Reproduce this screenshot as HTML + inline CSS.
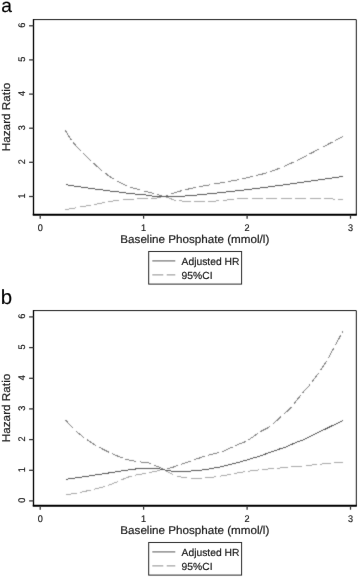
<!DOCTYPE html>
<html><head><meta charset="utf-8"><title>Figure</title>
<style>
html,body{margin:0;padding:0;background:#fff;}
svg{display:block;font-family:"Liberation Sans",sans-serif;fill:#1c1c1c;}
text{stroke:#1c1c1c;stroke-width:0.2px;text-rendering:geometricPrecision;}
</style></head>
<body>
<svg width="358" height="577" viewBox="0 0 358 577">
<defs>
<filter id="soft" color-interpolation-filters="sRGB" x="0" y="0" width="358" height="577" filterUnits="userSpaceOnUse"><feConvolveMatrix order="3" kernelMatrix="0.025 0.09 0.025 0.09 0.54 0.09 0.025 0.09 0.025" edgeMode="duplicate" preserveAlpha="false"/></filter>
<filter id="frm" color-interpolation-filters="sRGB" x="0" y="0" width="358" height="577" filterUnits="userSpaceOnUse"><feConvolveMatrix order="3" kernelMatrix="0.005 0.04 0.005 0.04 0.82 0.04 0.005 0.04 0.005" edgeMode="duplicate" preserveAlpha="false"/></filter>
<filter id="txt" color-interpolation-filters="sRGB" x="0" y="0" width="358" height="577" filterUnits="userSpaceOnUse"><feConvolveMatrix order="3" kernelMatrix="0 0.025 0 0.025 0.9 0.025 0 0.025 0" edgeMode="duplicate" preserveAlpha="false"/></filter>
</defs>
<rect width="358" height="577" fill="#fff"/>
<g filter="url(#frm)">
<path d="M33.5,19.6 H356.3 V214.9" fill="none" stroke="#1a1a1a" stroke-width="1"/>
<path d="M33.5,19.1 V214.9" fill="none" stroke="#000" stroke-width="1.35"/>
<path d="M32.75,214.65 H356.8" fill="none" stroke="#000" stroke-width="2"/>
<path d="M29.1,196.5 H33.5" stroke="#3a3a3a" stroke-width="1.3"/>
<path d="M29.1,162.3 H33.5" stroke="#3a3a3a" stroke-width="1.3"/>
<path d="M29.1,128.2 H33.5" stroke="#3a3a3a" stroke-width="1.3"/>
<path d="M29.1,94.1 H33.5" stroke="#3a3a3a" stroke-width="1.3"/>
<path d="M29.1,59.9 H33.5" stroke="#3a3a3a" stroke-width="1.3"/>
<path d="M29.1,25.8 H33.5" stroke="#3a3a3a" stroke-width="1.3"/>
<path d="M40.2,214.9 V218.7" stroke="#3a3a3a" stroke-width="1.3"/>
<path d="M143.6,214.9 V218.7" stroke="#3a3a3a" stroke-width="1.3"/>
<path d="M247.1,214.9 V218.7" stroke="#3a3a3a" stroke-width="1.3"/>
<path d="M350.5,214.9 V218.7" stroke="#3a3a3a" stroke-width="1.3"/>
<rect x="148.7" y="251.5" width="92.9" height="32.6" fill="#fff" stroke="#2a2a2a" stroke-width="1"/>
<path d="M152.3,260.9 H175.3" stroke="#777" stroke-width="1.2"/>
<path d="M152.3,274.9 H175.3" stroke="#a8a8a8" stroke-width="1.3" stroke-dasharray="11 3.4"/>
<path d="M33.5,310.6 H356.3 V505.9" fill="none" stroke="#1a1a1a" stroke-width="1"/>
<path d="M33.5,310.1 V505.9" fill="none" stroke="#000" stroke-width="1.35"/>
<path d="M32.75,505.65 H356.8" fill="none" stroke="#000" stroke-width="2"/>
<path d="M29.1,500.9 H33.5" stroke="#3a3a3a" stroke-width="1.3"/>
<path d="M29.1,470.3 H33.5" stroke="#3a3a3a" stroke-width="1.3"/>
<path d="M29.1,439.6 H33.5" stroke="#3a3a3a" stroke-width="1.3"/>
<path d="M29.1,408.9 H33.5" stroke="#3a3a3a" stroke-width="1.3"/>
<path d="M29.1,378.3 H33.5" stroke="#3a3a3a" stroke-width="1.3"/>
<path d="M29.1,347.6 H33.5" stroke="#3a3a3a" stroke-width="1.3"/>
<path d="M29.1,316.9 H33.5" stroke="#3a3a3a" stroke-width="1.3"/>
<path d="M40.2,505.9 V509.7" stroke="#3a3a3a" stroke-width="1.3"/>
<path d="M143.6,505.9 V509.7" stroke="#3a3a3a" stroke-width="1.3"/>
<path d="M247.1,505.9 V509.7" stroke="#3a3a3a" stroke-width="1.3"/>
<path d="M350.5,505.9 V509.7" stroke="#3a3a3a" stroke-width="1.3"/>
<rect x="148.7" y="542.5" width="92.9" height="32.6" fill="#fff" stroke="#2a2a2a" stroke-width="1"/>
<path d="M152.3,551.9 H175.3" stroke="#777" stroke-width="1.2"/>
<path d="M152.3,565.9 H175.3" stroke="#a8a8a8" stroke-width="1.3" stroke-dasharray="11 3.4"/>
</g>
<g filter="url(#soft)">
<path d="M65.4,130.4 L67.0,133.1 L68.6,135.8 L70.1,138.2 L71.7,140.5 L73.3,142.6 L74.9,144.5 L76.4,146.3 L78.0,148.0 L79.6,149.6 L81.2,151.2 L82.7,152.8 L84.3,154.4 L85.9,156.0 L87.5,157.5 L89.0,159.1 L90.6,160.6 L92.2,162.0 L93.8,163.4 L95.3,164.9 L96.9,166.3 L98.5,167.6 L100.1,169.0 L101.6,170.3 L103.2,171.6 L104.8,172.9 L106.4,174.0 L107.9,175.2 L109.5,176.3 L111.1,177.3 L112.7,178.4 L114.2,179.4 L115.8,180.3 L117.4,181.2 L119.0,182.1 L120.5,182.9 L122.1,183.6 L123.7,184.4 L125.3,185.1 L126.8,185.8 L128.4,186.5 L130.0,187.1 L131.6,187.6 L133.1,188.1 L134.7,188.5 L136.3,188.9 L137.9,189.3 L139.4,189.7 L141.0,190.1 L142.6,190.5 L144.2,191.0 L145.7,191.4 L147.3,191.8 L148.9,192.1 L150.5,192.5 L152.0,192.9 L153.6,193.3 L155.2,193.7 L156.8,194.2 L158.3,194.8 L159.9,195.2 L161.5,195.7 L162.2,195.9" fill="none" stroke="#828282" stroke-width="1" stroke-dasharray="11.2 3.28" shape-rendering="crispEdges"/>
<path d="M165.7,195.7 L167.3,195.1 L168.9,194.6 L170.5,194.1 L172.0,193.6 L173.6,193.1 L175.2,192.6 L176.8,192.1 L178.3,191.6 L179.9,191.2 L181.5,190.7 L183.1,190.3 L184.6,189.9 L186.2,189.5 L187.8,189.2 L189.3,188.8 L190.9,188.5 L192.5,188.2 L194.1,187.8 L195.6,187.5 L197.2,187.2 L198.8,186.8 L200.4,186.5 L201.9,186.3 L203.5,186.0 L205.1,185.7 L206.7,185.4 L208.2,185.1 L209.8,184.9 L211.4,184.6 L212.9,184.3 L214.5,184.0 L216.1,183.8 L217.7,183.5 L219.2,183.2 L220.8,182.9 L222.4,182.6 L224.0,182.3 L225.5,182.0 L227.1,181.8 L228.7,181.5 L230.3,181.2 L231.8,180.9 L233.4,180.6 L235.0,180.3 L236.6,180.0 L238.1,179.8 L239.7,179.5 L241.3,179.2 L242.8,178.8 L244.4,178.5 L246.0,178.1 L247.6,177.7 L249.1,177.3 L250.7,176.9 L252.3,176.5 L253.9,176.1 L255.4,175.7 L257.0,175.3 L258.6,174.9 L260.2,174.5 L261.7,174.2 L263.3,173.8 L264.9,173.3 L266.4,172.9 L268.0,172.4 L269.6,171.9 L271.2,171.3 L272.7,170.8 L274.3,170.2 L275.9,169.6 L277.5,169.0 L279.0,168.4 L280.6,167.7 L282.2,167.1 L283.8,166.4 L285.3,165.8 L286.9,165.1 L288.5,164.4 L290.0,163.7 L291.6,163.0 L293.2,162.3 L294.8,161.6 L296.3,160.9 L297.9,160.1 L299.5,159.3 L301.1,158.5 L302.6,157.7 L304.2,156.9 L305.8,156.1 L307.4,155.2 L308.9,154.4 L310.5,153.5 L312.1,152.7 L313.7,151.9 L315.2,151.0 L316.8,150.2 L318.4,149.4 L319.9,148.5 L321.5,147.7 L323.1,146.9 L324.7,146.1 L326.2,145.3 L327.8,144.4 L329.4,143.6 L331.0,142.8 L332.5,142.0 L334.1,141.1 L335.7,140.3 L337.3,139.5 L338.8,138.7 L340.4,137.8 L342.0,137.0 L342.9,136.5" fill="none" stroke="#828282" stroke-width="1" stroke-dasharray="11.2 3.28" stroke-dashoffset="8.60" shape-rendering="crispEdges"/>
<path d="M65.5,209.7 L67.1,209.4 L68.6,209.1 L70.2,208.8 L71.8,208.6 L73.4,208.3 L74.9,208.0 L76.5,207.7 L78.1,207.4 L79.7,207.1 L81.2,206.8 L82.8,206.6 L84.4,206.3 L86.0,206.0 L87.5,205.7 L89.1,205.4 L90.7,205.1 L92.3,204.8 L93.8,204.6 L95.4,204.3 L97.0,204.0 L98.5,203.7 L100.1,203.4 L101.7,203.1 L103.3,202.8 L104.8,202.5 L106.4,202.2 L108.0,201.9 L109.6,201.6 L111.1,201.3 L112.7,201.1 L114.3,200.8 L115.9,200.6 L117.4,200.3 L119.0,200.1 L120.6,199.9 L122.1,199.7 L123.7,199.6 L125.3,199.5 L126.9,199.4 L128.4,199.4 L130.0,199.4 L131.6,199.3 L133.2,199.2 L134.7,199.1 L136.3,198.8 L137.9,198.8 L139.5,198.8 L141.0,198.8 L142.6,198.8 L144.2,198.8 L145.8,198.8 L147.3,198.8 L148.9,198.8 L150.5,198.8 L152.0,198.8 L153.6,198.7 L155.2,198.4 L156.8,198.0 L158.3,197.6 L159.9,197.3 L161.5,196.9 L162.2,196.7" fill="none" stroke="#a8a8a8" stroke-width="1" stroke-dasharray="11.2 3.28" shape-rendering="crispEdges"/>
<path d="M165.7,197.0 L167.3,197.6 L168.9,198.1 L170.5,198.7 L172.0,199.2 L173.6,199.8 L175.2,200.2 L176.8,200.5 L178.3,200.6 L179.9,200.8 L181.5,200.9 L183.1,201.1 L184.6,201.2 L186.2,201.4 L187.8,201.5 L189.3,201.6 L190.9,201.6 L192.5,201.6 L194.1,201.6 L195.6,201.7 L197.2,201.7 L198.8,201.7 L200.4,201.7 L201.9,201.7 L203.5,201.7 L205.1,201.7 L206.7,201.7 L208.2,201.6 L209.8,201.5 L211.4,201.4 L212.9,201.3 L214.5,201.2 L216.1,201.0 L217.7,200.9 L219.2,200.7 L220.8,200.6 L222.4,200.5 L224.0,200.3 L225.5,200.1 L227.1,200.0 L228.7,199.8 L230.3,199.6 L231.8,199.4 L233.4,199.2 L235.0,199.1 L236.6,199.0 L238.1,198.9 L239.7,198.9 L241.3,198.8 L242.8,198.8 L244.4,198.7 L246.0,198.7 L247.6,198.7 L249.1,198.7 L250.7,198.7 L252.3,198.7 L253.9,198.7 L255.4,198.7 L257.0,198.7 L258.6,198.7 L260.2,198.7 L261.7,198.7 L263.3,198.7 L264.9,198.7 L266.4,198.7 L268.0,198.7 L269.6,198.7 L271.2,198.7 L272.7,198.7 L274.3,198.7 L275.9,198.7 L277.5,198.7 L279.0,198.7 L280.6,198.7 L282.2,198.7 L283.8,198.7 L285.3,198.7 L286.9,198.7 L288.5,198.7 L290.0,198.7 L291.6,198.7 L293.2,198.7 L294.8,198.7 L296.3,198.7 L297.9,198.7 L299.5,198.7 L301.1,198.7 L302.6,198.7 L304.2,198.7 L305.8,198.7 L307.4,198.7 L308.9,198.7 L310.5,198.7 L312.1,198.7 L313.7,198.8 L315.2,198.8 L316.8,198.8 L318.4,198.8 L319.9,198.8 L321.5,198.8 L323.1,198.8 L324.7,198.8 L326.2,198.8 L327.8,198.8 L329.4,198.8 L331.0,198.9 L332.5,199.0 L334.1,199.2 L335.7,199.3 L337.3,199.4 L338.8,199.5 L340.4,199.6 L342.0,199.7 L342.9,199.8" fill="none" stroke="#a8a8a8" stroke-width="1" stroke-dasharray="11.2 3.28" stroke-dashoffset="0.22" shape-rendering="crispEdges"/>
<path d="M65.5,184.6 L67.1,184.9 L68.6,185.1 L70.2,185.3 L71.8,185.6 L73.4,185.8 L74.9,186.1 L76.5,186.3 L78.1,186.5 L79.7,186.8 L81.2,187.0 L82.8,187.2 L84.4,187.5 L85.9,187.7 L87.5,187.9 L89.1,188.1 L90.7,188.4 L92.2,188.6 L93.8,188.8 L95.4,189.0 L96.9,189.2 L98.5,189.4 L100.1,189.6 L101.7,189.8 L103.2,190.1 L104.8,190.3 L106.4,190.5 L108.0,190.7 L109.5,190.9 L111.1,191.1 L112.7,191.3 L114.2,191.4 L115.8,191.6 L117.4,191.8 L119.0,192.0 L120.5,192.2 L122.1,192.4 L123.7,192.7 L125.3,192.9 L126.8,193.1 L128.4,193.3 L130.0,193.5 L131.5,193.6 L133.1,193.8 L134.7,194.0 L136.3,194.1 L137.8,194.3 L139.4,194.4 L141.0,194.5 L142.6,194.7 L144.1,194.8 L145.7,195.0 L147.3,195.3 L148.8,195.6 L150.4,195.9 L152.0,196.0 L153.6,196.1 L155.1,196.2 L156.7,196.3 L158.3,196.3 L159.8,196.4 L161.4,196.4 L163.0,196.4 L164.6,196.4 L166.1,196.4 L167.7,196.4 L169.3,196.4 L170.9,196.4 L172.4,196.4 L174.0,196.4 L175.6,196.4 L177.1,196.4 L178.7,196.3 L180.3,196.3 L181.9,196.2 L183.4,196.1 L185.0,196.0 L186.6,195.9 L188.2,195.7 L189.7,195.6 L191.3,195.5 L192.9,195.4 L194.4,195.2 L196.0,195.1 L197.6,194.9 L199.2,194.8 L200.7,194.7 L202.3,194.5 L203.9,194.4 L205.4,194.2 L207.0,194.0 L208.6,193.9 L210.2,193.7 L211.7,193.6 L213.3,193.4 L214.9,193.2 L216.5,193.1 L218.0,192.9 L219.6,192.7 L221.2,192.6 L222.7,192.4 L224.3,192.2 L225.9,192.0 L227.5,191.9 L229.0,191.7 L230.6,191.5 L232.2,191.3 L233.8,191.1 L235.3,191.0 L236.9,190.8 L238.5,190.6 L240.0,190.4 L241.6,190.2 L243.2,190.1 L244.8,189.9 L246.3,189.7 L247.9,189.5 L249.5,189.3 L251.0,189.1 L252.6,188.9 L254.2,188.7 L255.8,188.6 L257.3,188.4 L258.9,188.2 L260.5,188.0 L262.1,187.8 L263.6,187.6 L265.2,187.4 L266.8,187.2 L268.3,187.0 L269.9,186.8 L271.5,186.6 L273.1,186.3 L274.6,186.1 L276.2,185.9 L277.8,185.7 L279.4,185.5 L280.9,185.3 L282.5,185.1 L284.1,184.8 L285.6,184.6 L287.2,184.4 L288.8,184.2 L290.4,184.0 L291.9,183.7 L293.5,183.5 L295.1,183.3 L296.7,183.1 L298.2,182.8 L299.8,182.6 L301.4,182.4 L302.9,182.2 L304.5,182.0 L306.1,181.7 L307.7,181.5 L309.2,181.3 L310.8,181.1 L312.4,180.8 L313.9,180.6 L315.5,180.4 L317.1,180.2 L318.7,179.9 L320.2,179.7 L321.8,179.5 L323.4,179.3 L325.0,179.0 L326.5,178.8 L328.1,178.6 L329.7,178.3 L331.2,178.1 L332.8,177.9 L334.4,177.7 L336.0,177.4 L337.5,177.2 L339.1,177.0 L340.7,176.7 L342.3,176.5 L342.9,176.4" fill="none" stroke="#565656" stroke-width="1" shape-rendering="crispEdges"/>
<path d="M65.6,420.1 L67.2,421.9 L68.7,423.7 L70.3,425.4 L71.9,427.1 L73.5,428.7 L75.0,430.1 L76.6,431.6 L78.2,432.9 L79.8,434.2 L81.3,435.5 L82.9,436.7 L84.5,437.9 L86.0,439.0 L87.6,440.1 L89.2,441.2 L90.8,442.2 L92.3,443.2 L93.9,444.2 L95.5,445.1 L97.1,446.0 L98.6,446.9 L100.2,447.7 L101.8,448.6 L103.3,449.4 L104.9,450.2 L106.5,451.0 L108.1,451.8 L109.6,452.5 L111.2,453.3 L112.8,454.0 L114.4,454.7 L115.9,455.4 L117.5,456.0 L119.1,456.7 L120.7,457.3 L122.2,457.9 L123.8,458.5 L125.4,459.0 L126.9,459.5 L128.5,459.9 L130.1,460.3 L131.7,460.6 L133.2,460.9 L134.8,461.2 L136.4,461.5 L138.0,461.7 L139.5,461.9 L141.1,462.0 L142.7,462.2 L144.2,462.3 L145.8,462.5 L147.4,462.7 L149.0,463.0 L150.5,463.4 L152.1,464.1 L153.7,464.8 L155.3,465.5 L156.8,466.2 L158.4,466.9 L160.0,467.6 L161.5,468.4 L163.0,469.1" fill="none" stroke="#828282" stroke-width="1" stroke-dasharray="11.2 3.28" shape-rendering="crispEdges"/>
<path d="M166.5,469.3 L168.1,468.8 L169.7,468.2 L171.3,467.7 L172.8,467.2 L174.4,466.7 L176.0,466.1 L177.5,465.6 L179.1,465.1 L180.7,464.5 L182.3,464.0 L183.8,463.4 L185.4,462.9 L187.0,462.3 L188.6,461.8 L190.1,461.2 L191.7,460.7 L193.3,460.1 L194.8,459.6 L196.4,459.0 L198.0,458.5 L199.6,458.0 L201.1,457.4 L202.7,456.9 L204.3,456.5 L205.8,456.0 L207.4,455.6 L209.0,455.1 L210.6,454.7 L212.1,454.3 L213.7,453.8 L215.3,453.4 L216.8,453.0 L218.4,452.6 L220.0,452.2 L221.6,451.7 L223.1,451.2 L224.7,450.6 L226.3,450.0 L227.9,449.2 L229.4,448.5 L231.0,447.7 L232.6,447.0 L234.1,446.2 L235.7,445.5 L237.3,444.8 L238.9,444.1 L240.4,443.5 L242.0,443.0 L243.6,442.4 L245.1,441.7 L246.7,440.9 L248.3,440.0 L249.9,438.9 L251.4,437.9 L253.0,436.8 L254.6,435.6 L256.2,434.5 L257.7,433.4 L259.3,432.4 L260.9,431.4 L262.4,430.6 L264.0,429.8 L265.6,429.0 L267.2,428.2 L268.7,427.3 L270.3,426.2 L271.9,425.0 L273.4,423.7 L275.0,422.2 L276.6,420.7 L278.2,419.2 L279.7,417.7 L281.3,416.3 L282.9,414.9 L284.4,413.6 L286.0,412.3 L287.6,410.9 L289.2,409.5 L290.7,407.9 L292.3,406.1 L293.9,404.1 L295.5,402.0 L297.0,399.9 L298.6,397.9 L300.2,395.9 L301.7,393.9 L303.3,392.0 L304.9,390.2 L306.5,388.5 L308.0,386.8 L309.6,385.1 L311.2,383.1 L312.7,381.0 L314.3,378.7 L315.9,376.5 L317.5,374.4 L319.0,372.3 L320.6,370.1 L322.2,367.8 L323.8,365.4 L325.3,362.9 L326.9,360.3 L328.5,357.6 L330.0,354.8 L331.6,352.0 L333.2,349.2 L334.8,346.4 L336.3,343.5 L337.9,340.6 L339.5,337.5 L341.0,334.4 L342.6,331.3 L342.8,330.9" fill="none" stroke="#828282" stroke-width="1" stroke-dasharray="11.2 3.28" stroke-dashoffset="13.96" shape-rendering="crispEdges"/>
<path d="M65.6,495.1 L67.2,494.8 L68.7,494.5 L70.3,494.2 L71.9,493.9 L73.5,493.6 L75.0,493.3 L76.6,493.0 L78.2,492.7 L79.8,492.4 L81.3,492.1 L82.9,491.8 L84.5,491.5 L86.0,491.1 L87.6,490.8 L89.2,490.4 L90.8,490.1 L92.3,489.7 L93.9,489.3 L95.5,488.9 L97.1,488.5 L98.6,488.1 L100.2,487.7 L101.8,487.3 L103.3,486.8 L104.9,486.3 L106.5,485.8 L108.1,485.3 L109.6,484.8 L111.2,484.2 L112.8,483.6 L114.4,483.0 L115.9,482.4 L117.5,481.7 L119.1,481.0 L120.7,480.3 L122.2,479.6 L123.8,478.9 L125.4,478.2 L126.9,477.6 L128.5,477.0 L130.1,476.5 L131.7,476.0 L133.2,475.5 L134.8,475.2 L136.4,474.9 L138.0,474.6 L139.5,474.4 L141.1,474.1 L142.7,473.9 L144.2,473.7 L145.8,473.4 L147.4,473.0 L149.0,472.7 L150.5,472.4 L152.1,472.0 L153.7,471.7 L155.3,471.4 L156.8,471.1 L158.4,470.8 L160.0,470.5 L161.5,470.3 L163.0,470.1" fill="none" stroke="#a8a8a8" stroke-width="1" stroke-dasharray="11.2 3.28" shape-rendering="crispEdges"/>
<path d="M166.5,471.1 L168.1,472.0 L169.7,472.8 L171.3,473.6 L172.8,474.3 L174.4,475.0 L176.0,475.7 L177.5,476.3 L179.1,476.7 L180.7,477.0 L182.3,477.3 L183.8,477.6 L185.4,477.7 L187.0,477.8 L188.6,478.0 L190.1,478.1 L191.7,478.1 L193.3,478.2 L194.8,478.2 L196.4,478.2 L198.0,478.2 L199.6,478.1 L201.1,478.0 L202.7,478.0 L204.3,477.9 L205.8,477.8 L207.4,477.7 L209.0,477.5 L210.6,477.4 L212.1,477.2 L213.7,477.0 L215.3,476.8 L216.8,476.6 L218.4,476.4 L220.0,476.1 L221.6,475.9 L223.1,475.6 L224.7,475.3 L226.3,475.1 L227.9,474.8 L229.4,474.5 L231.0,474.2 L232.6,473.9 L234.1,473.6 L235.7,473.3 L237.3,473.0 L238.9,472.7 L240.4,472.4 L242.0,472.1 L243.6,471.9 L245.1,471.6 L246.7,471.4 L248.3,471.2 L249.9,471.0 L251.4,470.8 L253.0,470.6 L254.6,470.4 L256.2,470.2 L257.7,470.1 L259.3,469.9 L260.9,469.7 L262.4,469.6 L264.0,469.4 L265.6,469.2 L267.2,469.1 L268.7,468.9 L270.3,468.8 L271.9,468.7 L273.4,468.5 L275.0,468.4 L276.6,468.3 L278.2,468.2 L279.7,468.0 L281.3,467.9 L282.9,467.8 L284.4,467.6 L286.0,467.5 L287.6,467.4 L289.2,467.2 L290.7,467.1 L292.3,466.9 L293.9,466.8 L295.5,466.6 L297.0,466.5 L298.6,466.3 L300.2,466.2 L301.7,466.0 L303.3,465.9 L304.9,465.7 L306.5,465.6 L308.0,465.4 L309.6,465.3 L311.2,465.1 L312.7,464.9 L314.3,464.8 L315.9,464.6 L317.5,464.5 L319.0,464.3 L320.6,464.2 L322.2,464.0 L323.8,463.9 L325.3,463.7 L326.9,463.6 L328.5,463.4 L330.0,463.3 L331.6,463.2 L333.2,463.0 L334.8,462.9 L336.3,462.7 L337.9,462.6 L339.5,462.5 L341.0,462.3 L342.6,462.2 L342.8,462.2" fill="none" stroke="#a8a8a8" stroke-width="1" stroke-dasharray="11.2 3.28" stroke-dashoffset="3.44" shape-rendering="crispEdges"/>
<path d="M65.6,479.3 L67.2,479.1 L68.7,478.9 L70.3,478.7 L71.9,478.4 L73.5,478.2 L75.0,478.0 L76.6,477.8 L78.2,477.6 L79.7,477.3 L81.3,477.1 L82.9,476.9 L84.5,476.6 L86.0,476.4 L87.6,476.2 L89.2,476.0 L90.7,475.7 L92.3,475.5 L93.9,475.3 L95.5,475.0 L97.0,474.8 L98.6,474.6 L100.2,474.3 L101.7,474.1 L103.3,473.8 L104.9,473.6 L106.5,473.3 L108.0,473.1 L109.6,472.8 L111.2,472.6 L112.7,472.3 L114.3,472.1 L115.9,471.9 L117.5,471.6 L119.0,471.4 L120.6,471.1 L122.2,470.9 L123.7,470.7 L125.3,470.5 L126.9,470.2 L128.5,470.0 L130.0,469.7 L131.6,469.5 L133.2,469.3 L134.7,469.1 L136.3,468.9 L137.9,468.8 L139.5,468.7 L141.0,468.5 L142.6,468.4 L144.2,468.3 L145.7,468.3 L147.3,468.2 L148.9,468.2 L150.5,468.2 L152.0,468.3 L153.6,468.3 L155.2,468.4 L156.7,468.5 L158.3,468.6 L159.9,468.9 L161.5,469.3 L163.0,469.6 L164.6,469.9 L166.2,470.2 L167.7,470.5 L169.3,470.8 L170.9,471.0 L172.5,471.0 L174.0,471.0 L175.6,471.1 L177.2,471.1 L178.7,471.1 L180.3,471.1 L181.9,471.1 L183.4,471.1 L185.0,471.1 L186.6,471.1 L188.2,471.1 L189.7,471.0 L191.3,471.0 L192.9,470.9 L194.4,470.8 L196.0,470.7 L197.6,470.5 L199.2,470.4 L200.7,470.2 L202.3,470.0 L203.9,469.8 L205.4,469.5 L207.0,469.3 L208.6,469.0 L210.2,468.8 L211.7,468.5 L213.3,468.2 L214.9,467.9 L216.4,467.6 L218.0,467.3 L219.6,467.0 L221.2,466.7 L222.7,466.3 L224.3,465.9 L225.9,465.6 L227.4,465.2 L229.0,464.8 L230.6,464.4 L232.2,464.0 L233.7,463.6 L235.3,463.2 L236.9,462.7 L238.4,462.3 L240.0,461.9 L241.6,461.5 L243.2,461.0 L244.7,460.6 L246.3,460.1 L247.9,459.7 L249.4,459.2 L251.0,458.7 L252.6,458.2 L254.2,457.8 L255.7,457.3 L257.3,456.8 L258.9,456.3 L260.4,455.8 L262.0,455.2 L263.6,454.7 L265.2,454.1 L266.7,453.6 L268.3,453.0 L269.9,452.4 L271.4,451.9 L273.0,451.3 L274.6,450.7 L276.2,450.2 L277.7,449.6 L279.3,449.1 L280.9,448.6 L282.4,448.1 L284.0,447.6 L285.6,447.0 L287.2,446.4 L288.7,445.7 L290.3,445.0 L291.9,444.3 L293.4,443.6 L295.0,443.0 L296.6,442.3 L298.2,441.7 L299.7,441.1 L301.3,440.5 L302.9,439.9 L304.4,439.2 L306.0,438.6 L307.6,437.8 L309.2,437.1 L310.7,436.3 L312.3,435.5 L313.9,434.7 L315.4,433.9 L317.0,433.1 L318.6,432.3 L320.2,431.6 L321.7,430.8 L323.3,430.0 L324.9,429.3 L326.4,428.5 L328.0,427.8 L329.6,427.0 L331.2,426.2 L332.7,425.5 L334.3,424.7 L335.9,424.0 L337.4,423.2 L339.0,422.5 L340.6,421.7 L342.2,421.0 L342.8,420.7" fill="none" stroke="#565656" stroke-width="1" shape-rendering="crispEdges"/>
</g>
<g filter="url(#txt)">
<text transform="translate(24.6,195.9) rotate(-90) scale(0.95,1)" text-anchor="middle" font-size="9.6">1</text>
<text transform="translate(24.6,161.8) rotate(-90) scale(0.95,1)" text-anchor="middle" font-size="9.6">2</text>
<text transform="translate(24.6,127.6) rotate(-90) scale(0.95,1)" text-anchor="middle" font-size="9.6">3</text>
<text transform="translate(24.6,93.5) rotate(-90) scale(0.95,1)" text-anchor="middle" font-size="9.6">4</text>
<text transform="translate(24.6,59.3) rotate(-90) scale(0.95,1)" text-anchor="middle" font-size="9.6">5</text>
<text transform="translate(24.6,25.1) rotate(-90) scale(0.95,1)" text-anchor="middle" font-size="9.6">6</text>
<text transform="translate(40.2,230.9) scale(0.95,1)" text-anchor="middle" font-size="9.6">0</text>
<text transform="translate(143.6,230.9) scale(0.95,1)" text-anchor="middle" font-size="9.6">1</text>
<text transform="translate(247.1,230.9) scale(0.95,1)" text-anchor="middle" font-size="9.6">2</text>
<text transform="translate(350.5,230.9) scale(0.95,1)" text-anchor="middle" font-size="9.6">3</text>
<text transform="translate(194.8,243.4) scale(1.032,1)" text-anchor="middle" font-size="11.3">Baseline Phosphate (mmol/l)</text>
<text transform="translate(9.5,117.0) rotate(-90) scale(1.04,1)" text-anchor="middle" font-size="11.3">Hazard Ratio</text>
<text x="181.6" y="264.9" font-size="10.3">Adjusted HR</text>
<text x="181.6" y="279.1" font-size="10.3">95%CI</text>
<text x="1.2" y="12.3" font-size="19.2" fill="#000">a</text>
<text transform="translate(24.6,500.3) rotate(-90) scale(0.95,1)" text-anchor="middle" font-size="9.6">0</text>
<text transform="translate(24.6,469.7) rotate(-90) scale(0.95,1)" text-anchor="middle" font-size="9.6">1</text>
<text transform="translate(24.6,439.0) rotate(-90) scale(0.95,1)" text-anchor="middle" font-size="9.6">2</text>
<text transform="translate(24.6,408.3) rotate(-90) scale(0.95,1)" text-anchor="middle" font-size="9.6">3</text>
<text transform="translate(24.6,377.7) rotate(-90) scale(0.95,1)" text-anchor="middle" font-size="9.6">4</text>
<text transform="translate(24.6,347.0) rotate(-90) scale(0.95,1)" text-anchor="middle" font-size="9.6">5</text>
<text transform="translate(24.6,316.3) rotate(-90) scale(0.95,1)" text-anchor="middle" font-size="9.6">6</text>
<text transform="translate(40.2,521.9) scale(0.95,1)" text-anchor="middle" font-size="9.6">0</text>
<text transform="translate(143.6,521.9) scale(0.95,1)" text-anchor="middle" font-size="9.6">1</text>
<text transform="translate(247.1,521.9) scale(0.95,1)" text-anchor="middle" font-size="9.6">2</text>
<text transform="translate(350.5,521.9) scale(0.95,1)" text-anchor="middle" font-size="9.6">3</text>
<text transform="translate(194.8,534.4) scale(1.032,1)" text-anchor="middle" font-size="11.3">Baseline Phosphate (mmol/l)</text>
<text transform="translate(9.5,408.0) rotate(-90) scale(1.04,1)" text-anchor="middle" font-size="11.3">Hazard Ratio</text>
<text x="181.6" y="555.9" font-size="10.3">Adjusted HR</text>
<text x="181.6" y="570.1" font-size="10.3">95%CI</text>
<text x="0.8" y="303.5" font-size="20.4" fill="#000">b</text>
</g>
</svg>
</body></html>
